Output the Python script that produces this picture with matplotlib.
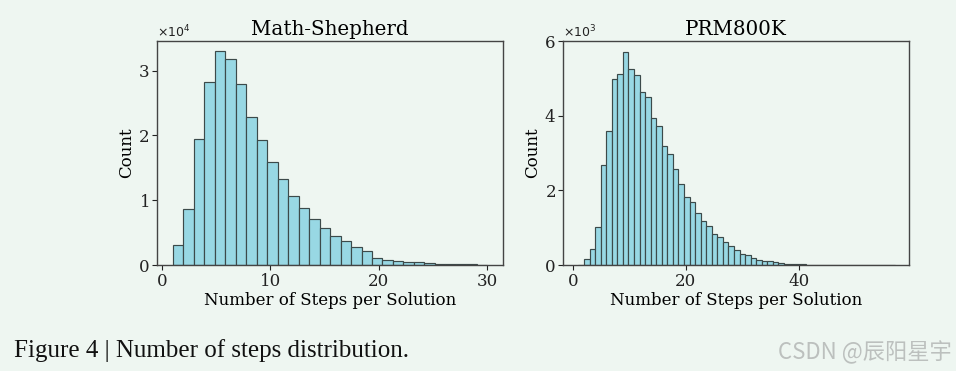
import numpy as np
import matplotlib
matplotlib.use("Agg")
import matplotlib.pyplot as plt

# ---------------- data ----------------
ms_title = "Math-Shepherd"
ms_range = (1, 30)
ms_counts = [3090, 8710, 19430, 28250, 33040, 31750, 27940, 22840, 19280, 15930,
             13250, 10570, 8810, 7110, 5770, 4480, 3660, 2780, 2220, 1130,
             820, 670, 520, 410, 310, 210, 150, 100, 100, 30]
ms_yticks = [0, 10000, 20000, 30000]
ms_xticks = [0, 10, 20, 30]

prm_title = "PRM800K"
prm_range = (1, 57)
prm_counts = [0, 160, 430, 1020, 2680, 3590, 4980, 5125, 5720, 5250,
              5090, 4650, 4520, 3940, 3720, 3180, 2970, 2570, 2160, 1820,
              1690, 1390, 1170, 1040, 830, 740, 620, 510, 400, 300,
              260, 180, 140, 115, 100, 70, 55, 35, 27, 18,
              15, 12, 10, 8, 6, 5, 4, 3, 3, 2,
              2, 1, 1, 1, 1, 1, 0]
prm_yticks = [0, 2000, 4000, 6000]
prm_xticks = [0, 20, 40]

xlabel = "Number of Steps per Solution"
ylabel = "Count"
caption = "Figure 4 | Number of steps distribution."
watermark = "CSDN @辰阳星宇"

# ---------------- style ----------------
bg = "#eef6f1"
bar_color = "#98d8e4"
edge_color = "#3c4a4a"

fig = plt.figure(figsize=(9.56, 3.71), dpi=100, facecolor=bg)

def draw(ax, counts, rng, title, yticks, xticks, xlim, ylim):
    n = len(counts)
    edges = np.linspace(rng[0], rng[1], n + 1)
    w = edges[1] - edges[0]
    ax.bar(edges[:-1], counts, width=w, align="edge", color=bar_color,
           edgecolor=edge_color, linewidth=0.85)
    ax.set_facecolor(bg)
    ax.set_xlim(*xlim)
    ax.set_ylim(*ylim)
    ax.set_xticks(xticks)
    ax.set_yticks(yticks)
    ax.ticklabel_format(axis="y", style="sci", scilimits=(0, 0), useMathText=True)
    ax.yaxis.get_offset_text().set_fontsize(9)
    ax.yaxis.get_offset_text().set_family("DejaVu Sans")
    ax.set_title(title, fontsize=14.3, family="DejaVu Serif", pad=4)
    ax.set_xlabel(xlabel, fontsize=12, family="DejaVu Serif", labelpad=2)
    ax.set_ylabel(ylabel, fontsize=12, family="DejaVu Serif", labelpad=2)
    for lab in ax.get_xticklabels() + ax.get_yticklabels():
        lab.set_family("DejaVu Serif")
        lab.set_fontsize(12)
    for sp in ax.spines.values():
        sp.set_color("#444444")
        sp.set_linewidth(1.0)
    ax.tick_params(colors="#222222", length=3.5, width=0.8, pad=2)

ax1 = fig.add_axes([157 / 956, 1 - 265 / 371, 346 / 956, 224 / 371])
draw(ax1, ms_counts, ms_range, ms_title, ms_yticks, ms_xticks,
     (-0.47, 31.45), (0, 34560))

ax2 = fig.add_axes([563.3 / 956, 1 - 265 / 371, 346 / 956, 224 / 371])
draw(ax2, prm_counts, prm_range, prm_title, prm_yticks, prm_xticks,
     (-1.68, 59.5), (0, 6010))

fig.text(14 / 956, 1 - 351 / 371, caption, fontsize=18, family="Liberation Serif",
         va="center", ha="left", color="#111111")
fig.text(952 / 956, 1 - 352 / 371, watermark, fontsize=16,
         family=["Noto Sans CJK SC", "DejaVu Sans"], va="center", ha="right",
         color="#bcc0be")

fig.savefig("out.png", dpi=100, facecolor=bg)
